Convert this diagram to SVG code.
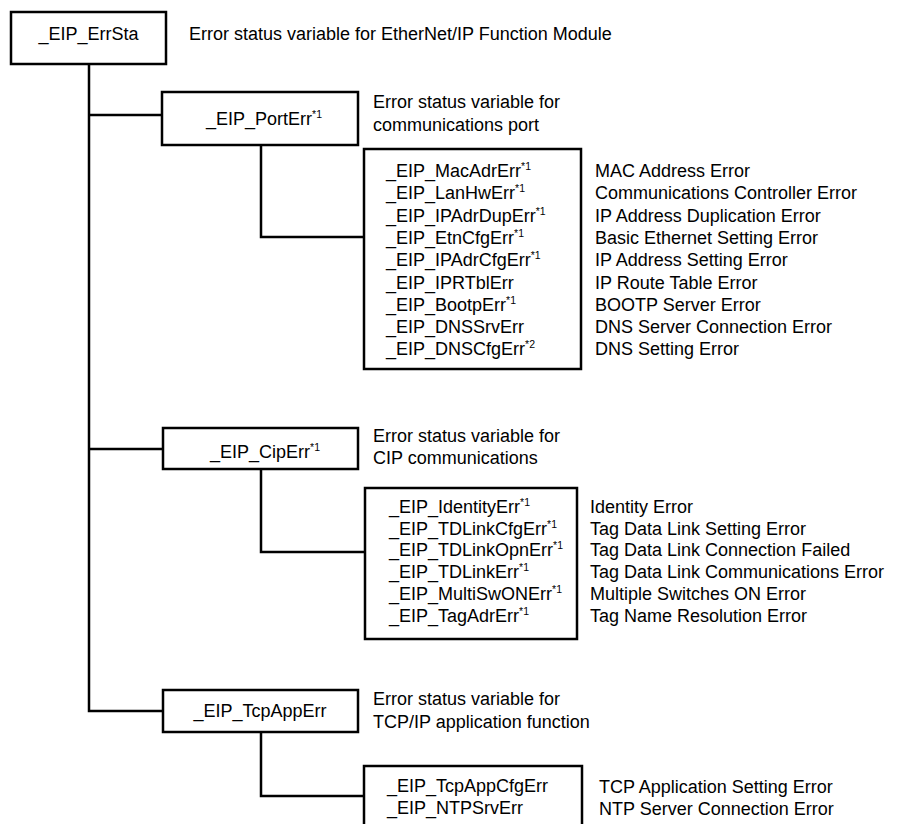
<svg xmlns="http://www.w3.org/2000/svg" width="905" height="824" viewBox="0 0 905 824">
<style>
.box{fill:#fff;stroke:#000;stroke-width:2.5}
.ln{fill:none;stroke:#000;stroke-width:2.5}
text{font-family:"Liberation Sans",Arial,sans-serif;font-size:18px;fill:#000}
.c{text-anchor:middle}
.sup{font-size:10.5px}
</style>
<rect width="905" height="824" fill="#fff"/>
<g id="connectors">
<path class="ln" d="M89,64 V711 H163"/>
<path class="ln" d="M89,115 H162"/>
<path class="ln" d="M89,449 H163"/>
<path class="ln" d="M261,145 V237 H364"/>
<path class="ln" d="M261,469 V552 H365"/>
<path class="ln" d="M261,732 V796 H364"/>
</g>
<g id="errsta">
<rect class="box" x="11" y="12" width="155" height="52"/>
<text class="c" x="88.5" y="40">_EIP_ErrSta</text>
<text x="189" y="40">Error status variable for EtherNet/IP Function Module</text>
</g>
<g id="porterr">
<rect class="box" x="162" y="92" width="196" height="53"/>
<text class="c" x="264" y="125">_EIP_PortErr<tspan class="sup" dy="-7">*1</tspan></text>
<text x="373" y="108">Error status variable for</text>
<text x="373" y="131">communications port</text>
</g>
<g id="portdetail">
<rect class="box" x="364" y="149" width="217" height="220"/>
<text x="386" y="177">_EIP_MacAdrErr<tspan class="sup" dy="-7">*1</tspan></text>
<text x="386" y="199.3">_EIP_LanHwErr<tspan class="sup" dy="-7">*1</tspan></text>
<text x="386" y="221.6">_EIP_IPAdrDupErr<tspan class="sup" dy="-7">*1</tspan></text>
<text x="386" y="243.9">_EIP_EtnCfgErr<tspan class="sup" dy="-7">*1</tspan></text>
<text x="386" y="266.2">_EIP_IPAdrCfgErr<tspan class="sup" dy="-7">*1</tspan></text>
<text x="386" y="288.5">_EIP_IPRTblErr</text>
<text x="386" y="310.8">_EIP_BootpErr<tspan class="sup" dy="-7">*1</tspan></text>
<text x="386" y="333.1">_EIP_DNSSrvErr</text>
<text x="386" y="355.4">_EIP_DNSCfgErr<tspan class="sup" dy="-7">*2</tspan></text>
<text x="595" y="177">MAC Address Error</text>
<text x="595" y="199.3">Communications Controller Error</text>
<text x="595" y="221.6">IP Address Duplication Error</text>
<text x="595" y="243.9">Basic Ethernet Setting Error</text>
<text x="595" y="266.2">IP Address Setting Error</text>
<text x="595" y="288.5">IP Route Table Error</text>
<text x="595" y="310.8">BOOTP Server Error</text>
<text x="595" y="333.1">DNS Server Connection Error</text>
<text x="595" y="355.4">DNS Setting Error</text>
</g>
<g id="ciperr">
<rect class="box" x="163" y="428" width="195" height="41"/>
<text class="c" x="265" y="458">_EIP_CipErr<tspan class="sup" dy="-7">*1</tspan></text>
<text x="373" y="442">Error status variable for</text>
<text x="373" y="464">CIP communications</text>
</g>
<g id="cipdetail">
<rect class="box" x="365" y="488" width="212" height="151"/>
<text x="389" y="513">_EIP_IdentityErr<tspan class="sup" dy="-7">*1</tspan></text>
<text x="389" y="534.7">_EIP_TDLinkCfgErr<tspan class="sup" dy="-7">*1</tspan></text>
<text x="389" y="556.4">_EIP_TDLinkOpnErr<tspan class="sup" dy="-7">*1</tspan></text>
<text x="389" y="578.1">_EIP_TDLinkErr<tspan class="sup" dy="-7">*1</tspan></text>
<text x="389" y="599.8">_EIP_MultiSwONErr<tspan class="sup" dy="-7">*1</tspan></text>
<text x="389" y="621.5">_EIP_TagAdrErr<tspan class="sup" dy="-7">*1</tspan></text>
<text x="590" y="513">Identity Error</text>
<text x="590" y="534.7">Tag Data Link Setting Error</text>
<text x="590" y="556.4">Tag Data Link Connection Failed</text>
<text x="590" y="578.1">Tag Data Link Communications Error</text>
<text x="590" y="599.8">Multiple Switches ON Error</text>
<text x="590" y="621.5">Tag Name Resolution Error</text>
</g>
<g id="tcpapperr">
<rect class="box" x="163" y="690" width="195" height="42"/>
<text class="c" x="260" y="717">_EIP_TcpAppErr</text>
<text x="373" y="705">Error status variable for</text>
<text x="373" y="728">TCP/IP application function</text>
</g>
<g id="tcpdetail">
<rect class="box" x="364" y="766" width="218" height="70"/>
<text x="387" y="792">_EIP_TcpAppCfgErr</text>
<text x="387" y="814">_EIP_NTPSrvErr</text>
<text x="599" y="793">TCP Application Setting Error</text>
<text x="599" y="815">NTP Server Connection Error</text>
</g>
</svg>
